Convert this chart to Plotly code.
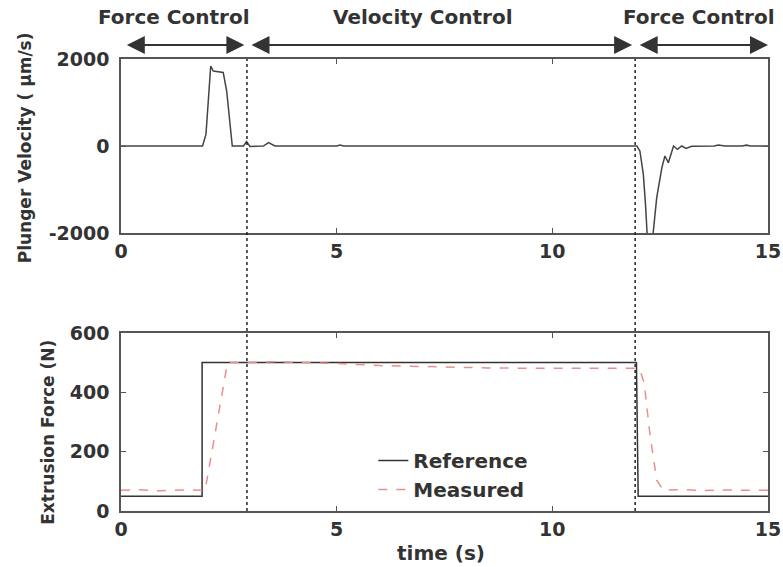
import plotly.graph_objects as go

# ---- data ----
vel_t = [0, 1.85, 1.89, 1.97, 2.02, 2.08, 2.14, 2.30, 2.37, 2.45, 2.53, 2.58, 2.84, 2.91, 2.99,
         3.30, 3.42, 3.57, 5.0, 5.08, 5.16, 5.8, 5.85, 5.9, 11.6, 11.64, 11.7, 11.96, 12.03,
         12.11, 12.16, 12.20, 12.27, 12.33, 12.42, 12.54, 12.61, 12.69, 12.81, 12.90, 13.0,
         13.10, 13.23, 13.5, 13.75, 13.85, 14.0, 14.4, 14.5, 14.6, 15.0]
vel_v = [0, 0, 0, 268, 1035, 1839, 1724, 1709, 1690, 1264, 498, 0, 0, 100, -10,
         0, 80, 0, 0, 20, 0, 0, 15, 0, 0, 15, 0, 0, -115,
         -651, -1341, -2069, -2500, -2069, -1188, -498, -230, -383, 0, -77, 0,
         -54, -8, 0, 0, 25, 0, 0, 20, 0, 0]

ref_t = [0, 1.88, 1.88, 11.95, 11.99, 15]
ref_f = [50, 50, 500, 500, 50, 50]

meas_t = [0, 0.4, 0.9, 1.4, 1.95, 2.47, 2.9, 3.5, 4.2, 5.0, 6.0, 7.5, 8.5, 9.5, 10.5, 11.5, 11.95,
          12.03, 12.13, 12.26, 12.42, 12.57, 13.0, 13.5, 14.0, 14.5, 15.0]
meas_f = [70, 72, 68, 71, 70, 500, 500, 503, 500, 497, 490, 484, 482, 481, 481, 481, 481,
          475, 431, 262, 104, 70, 72, 69, 71, 70, 70]

switch_t = [2.92, 11.92]
phase_names = ["Force Control", "Velocity Control", "Force Control"]
phase_label_t = [1.23, 7.0, 13.39]
phase_arrows = [(0.1, 2.86), (2.99, 11.85), (11.99, 15.0)]

x_ticks = [0, 5, 10, 15]
vel_ticks = [-2000, 0, 2000]
vel_tick_text = ["-2000", "0", "2000"]
force_ticks = [0, 200, 400, 600]

FONT = "DejaVu Sans"
TXT = "#333333"
AX = "#555555"

fig = go.Figure()
fig.add_trace(go.Scatter(x=vel_t, y=vel_v, mode="lines", xaxis="x", yaxis="y",
                         line=dict(color="#444444", width=1.5), showlegend=False))
fig.add_trace(go.Scatter(x=ref_t, y=ref_f, mode="lines", xaxis="x2", yaxis="y2",
                         name="Reference", line=dict(color="#333333", width=1.5)))
fig.add_trace(go.Scatter(x=meas_t, y=meas_f, mode="lines", xaxis="x2", yaxis="y2",
                         name="Measured", line=dict(color="#e8908f", width=1.5, dash="dash")))

tickfont = dict(family=FONT, size=19, color=TXT, weight="bold")
axcommon = dict(showgrid=False, zeroline=False, showline=True, linecolor=AX, linewidth=1.5,
                mirror="ticks", ticks="inside", ticklen=5, tickcolor=AX, tickfont=tickfont,
                automargin=False)

fig.update_layout(
    width=783, height=567,
    margin=dict(l=121, r=15, t=59, b=56),
    paper_bgcolor="white", plot_bgcolor="white",
    xaxis=dict(domain=[0, 1], anchor="y", range=[0, 15], tickvals=x_ticks, **axcommon),
    yaxis=dict(domain=[0.615, 1], anchor="x", range=[-2000, 2000], tickvals=vel_ticks,
               ticktext=vel_tick_text, ticklabelstandoff=6, **axcommon),
    xaxis2=dict(domain=[0, 1], anchor="y2", range=[0, 15], tickvals=x_ticks, **axcommon),
    yaxis2=dict(domain=[0, 0.394], anchor="x2", range=[0, 600], tickvals=force_ticks,
                ticklabelstandoff=6, **axcommon),
    legend=dict(x=0.39, y=0.155, xanchor="left", yanchor="top", bgcolor="rgba(0,0,0,0)",
                font=dict(family=FONT, size=20, color=TXT, weight="bold")),
)

for st in switch_t:
    fig.add_shape(type="line", xref="x", yref="paper", x0=st, x1=st, y0=0, y1=1,
                  line=dict(color="#222222", width=1.5, dash="dot"))

anns = []
for name, lt in zip(phase_names, phase_label_t):
    anns.append(dict(text=name, x=lt, y=1.093, xref="x", yref="paper", showarrow=False,
                     xanchor="center", yanchor="middle",
                     font=dict(family=FONT, size=20, color=TXT, weight="bold")))
for a0, a1 in phase_arrows:
    anns.append(dict(text="", x=a1, y=1.031, xref="x", yref="paper",
                     ax=a0, ay=0, axref="x", ayref="pixel", showarrow=True,
                     arrowhead=2, startarrowhead=2, arrowside="end+start",
                     arrowsize=1.8, startarrowsize=1.8, arrowwidth=2, arrowcolor="#333333",
                     standoff=0, startstandoff=0))
anns.append(dict(text="Plunger Velocity ( μm/s)", x=-0.148, y=0.803, xref="paper", yref="paper",
                 textangle=-90, showarrow=False, xanchor="center", yanchor="middle",
                 font=dict(family=FONT, size=17, color=TXT, weight="bold")))
anns.append(dict(text="Extrusion Force (N)", x=-0.113, y=0.175, xref="paper", yref="paper",
                 textangle=-90, showarrow=False, xanchor="center", yanchor="middle",
                 font=dict(family=FONT, size=17, color=TXT, weight="bold")))
anns.append(dict(text="time (s)", x=7.43, y=-0.093, xref="x2", yref="paper", showarrow=False,
                 xanchor="center", yanchor="middle",
                 font=dict(family=FONT, size=20, color=TXT, weight="bold")))
fig.update_layout(annotations=anns)

fig.write_html("out.html")
